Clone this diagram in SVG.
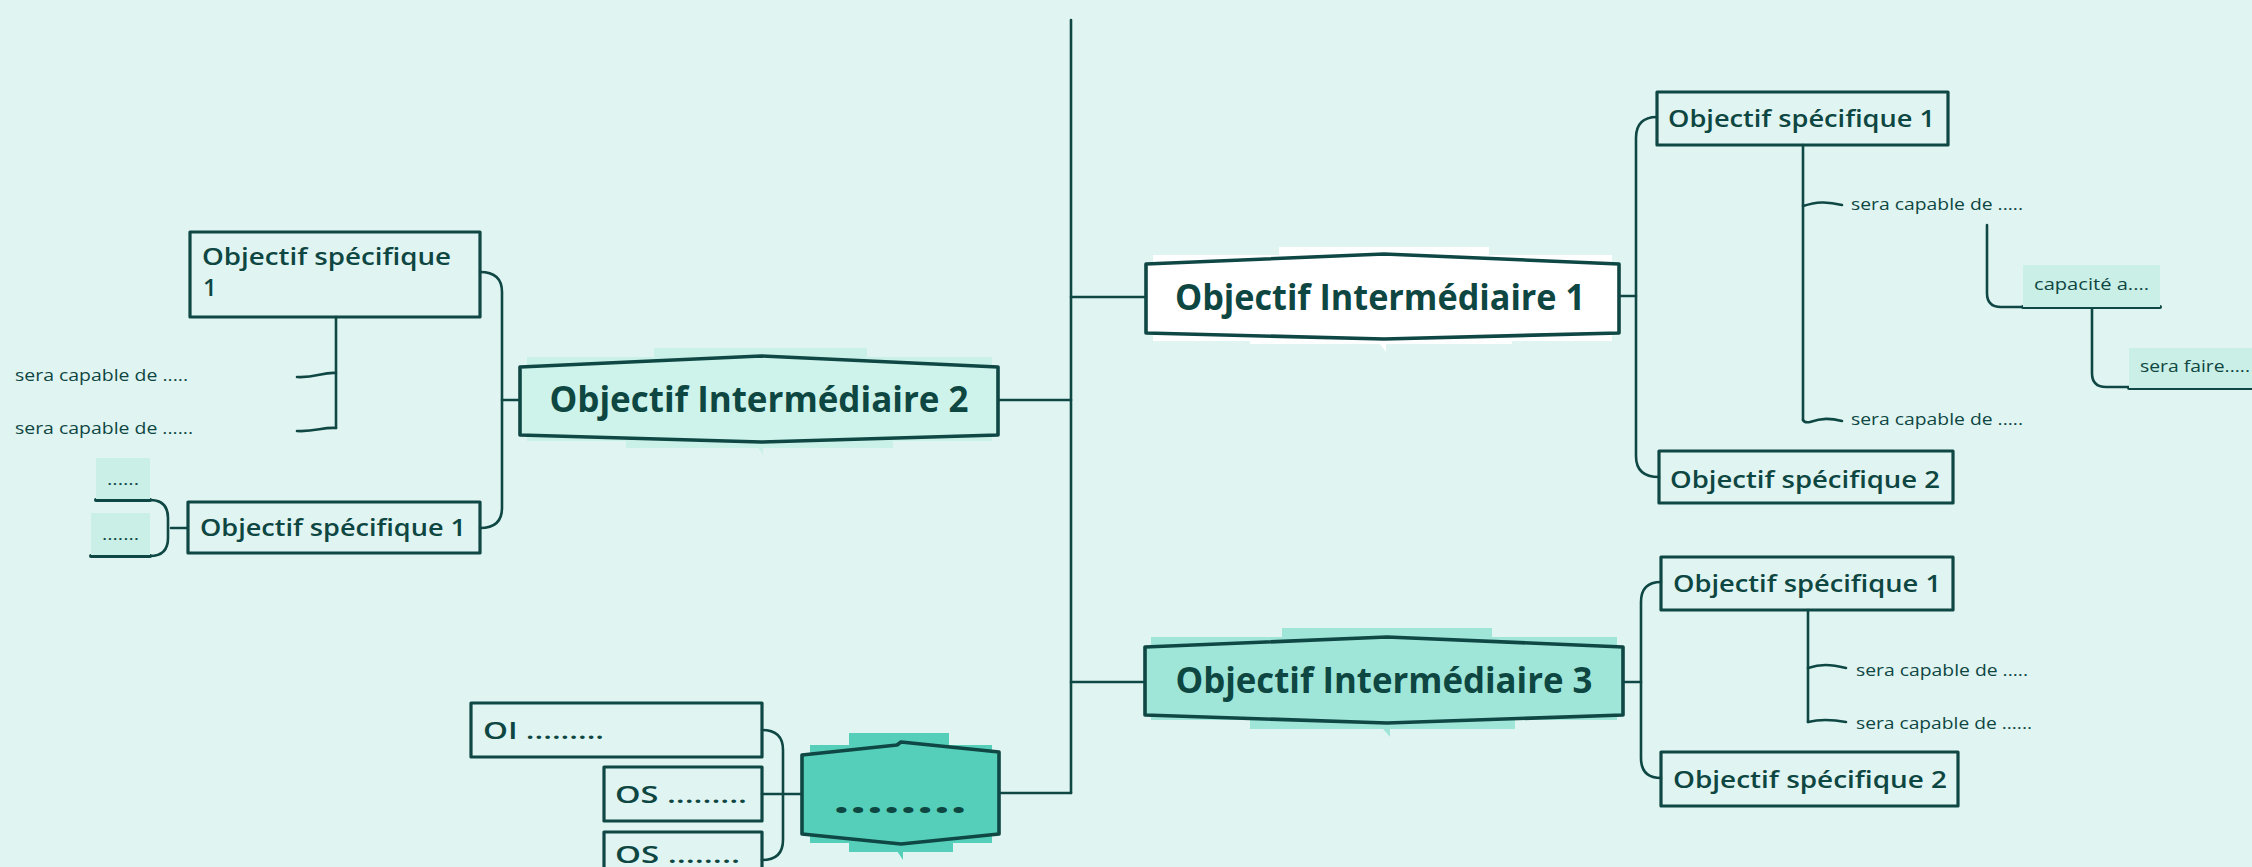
<svg xmlns="http://www.w3.org/2000/svg" width="2252" height="867" viewBox="0 0 2252 867">
<style>
.bg{fill:#e0f5f2}
.ln{fill:none;stroke:#0f4744;stroke-width:2.6;stroke-linecap:round;stroke-linejoin:round}
.thick{fill:none;stroke:#0f4744;stroke-width:4;stroke-linecap:round}
.box{fill:none;stroke:#0f4744;stroke-width:3.2;stroke-linejoin:round}
.oi{stroke:#0f4744;stroke-width:3.6;stroke-linejoin:round}
.tOI{font-family:"Open Sans","Noto Sans",sans-serif;font-weight:700;font-size:35px;fill:#0e4642;text-anchor:middle}
.tOS{font-family:"Open Sans","Noto Sans",sans-serif;font-weight:600;font-size:24px;fill:#0e4642}
.tS{font-family:"Open Sans","Noto Sans",sans-serif;font-weight:400;font-size:17px;fill:#0e4642}
.soft{fill:#c9efe6}
</style>
<rect class="bg" x="0" y="0" width="2252" height="867"/>

<g id="connectors">
  <path class="ln" d="M1071,20 L1071,793"/>
  <path class="ln" d="M1071,297 L1146,297"/>
  <path class="ln" d="M998,400 L1071,400"/>
  <path class="ln" d="M1071,682 L1145,682"/>
  <path class="ln" d="M999,793 L1071,793"/>
  <path class="ln" d="M502,400 L520,400"/>
  <path class="ln" d="M480,272 Q502,272 502,292 L502,508 Q502,528 480,528"/>
  <path class="ln" d="M336,317 L336,428"/>
  <path class="ln" d="M336,373 C322,372 316,378 297,377"/>
  <path class="ln" d="M336,428 C322,427 316,432 297,431"/>
  <path class="ln" d="M171,528 L187,528"/>
  <path class="ln" d="M150,500 Q168,500 168,518 L168,538 Q168,556 150,556"/>
  <path class="thick" d="M96,500 L150,500"/>
  <path class="thick" d="M91,556 L150,556"/>
  <path class="ln" d="M1619,296 L1636,296"/>
  <path class="ln" d="M1657,117 Q1636,117 1636,138 L1636,456 Q1636,477 1659,477"/>
  <path class="ln" d="M1803,145 L1803,420"/>
  <path class="ln" d="M1803,206 C1816,202 1826,201 1842,205"/>
  <path class="ln" d="M1803,420 Q1804,423 1810,422 C1822,418 1830,418 1842,421"/>
  <path class="ln" d="M1987,225 L1987,293 Q1987,307 2001,307 L2023,307"/>
  <path class="thick" d="M2023,307 L2160,307"/>
  <path class="ln" d="M2092,307 L2092,373 Q2092,387 2106,387 L2129,387"/>
  <path class="thick" d="M2129,388 L2252,388"/>
  <path class="ln" d="M1623,682 L1641,682"/>
  <path class="ln" d="M1661,582 Q1641,582 1641,602 L1641,758 Q1641,778 1661,778"/>
  <path class="ln" d="M1808,610 L1808,722"/>
  <path class="ln" d="M1808,668 C1820,664 1830,664 1846,668"/>
  <path class="ln" d="M1808,722 C1820,719 1830,719 1846,722"/>
  <path class="ln" d="M762,730 Q783,730 783,750 L783,840 Q783,860 762,860"/>
  <path class="ln" d="M762,794 L802,794"/>
</g>

<g id="oi1">
  <rect x="1153" y="255" width="459" height="86" fill="#ffffff"/>
  <rect x="1279" y="247" width="210" height="20" fill="#ffffff"/>
  <rect x="1250" y="330" width="262" height="14" fill="#ffffff"/>
  <path d="M1377,340 L1386,340 L1386,352 Z" fill="#ffffff"/>
  <path class="oi" fill="#ffffff" d="M1146,264 L1384,254 L1619,264 L1619,333 L1384,339 L1146,333 Z"/>
  <text class="tOI" x="1380" y="310" textLength="410" lengthAdjust="spacingAndGlyphs">Objectif Intermédiaire 1</text>
</g>

<g id="oi2">
  <rect x="527" y="357" width="465" height="84" fill="#caf1e8"/>
  <rect x="654" y="348" width="213" height="20" fill="#caf1e8"/>
  <rect x="626" y="430" width="267" height="18" fill="#caf1e8"/>
  <path d="M753,440 L763,440 L763,455 Z" fill="#caf1e8"/>
  <path class="oi" fill="#cdf3ea" d="M520,367 L761,356 L998,367 L998,435 L761,442 L520,435 Z"/>
  <text class="tOI" x="759" y="412" textLength="419" lengthAdjust="spacingAndGlyphs">Objectif Intermédiaire 2</text>
</g>

<g id="oi3">
  <rect x="1151" y="637" width="466" height="83" fill="#9fe6d9"/>
  <rect x="1282" y="628" width="210" height="20" fill="#9fe6d9"/>
  <rect x="1250" y="712" width="265" height="17" fill="#9fe6d9"/>
  <path d="M1377,722 L1390,722 L1390,737 Z" fill="#9fe6d9"/>
  <path class="oi" fill="#9fe6d9" d="M1145,647 L1387,637 L1623,647 L1623,715 L1387,723 L1145,715 Z"/>
  <text class="tOI" x="1384" y="693" textLength="417" lengthAdjust="spacingAndGlyphs">Objectif Intermédiaire 3</text>
</g>

<g id="oi4">
  <rect x="810" y="745" width="182" height="98" fill="#55cfb9"/>
  <rect x="849" y="733" width="100" height="20" fill="#55cfb9"/>
  <rect x="849" y="836" width="104" height="16" fill="#55cfb9"/>
  <path d="M893,845 L903,845 L903,860 Z" fill="#55cfb9"/>
  <path class="oi" fill="#55cfb9" d="M802,755 L897,745 L901,742 L999,752 L999,834 L901,844 L802,834 Z"/>
  <text class="tOI" x="900" y="813" font-size="64" textLength="134" lengthAdjust="spacingAndGlyphs">........</text>
</g>

<g id="os2a">
  <rect class="box" x="190" y="232" width="290" height="85"/>
  <text class="tOS" x="202" y="265" textLength="249" lengthAdjust="spacingAndGlyphs">Objectif spécifique</text>
  <text class="tOS" x="203" y="296">1</text>
</g>
<g id="sc2a"><text class="tS" x="15" y="381" textLength="173" lengthAdjust="spacingAndGlyphs">sera capable de .....</text></g>
<g id="sc2b"><text class="tS" x="15" y="434" textLength="178" lengthAdjust="spacingAndGlyphs">sera capable de ......</text></g>

<g id="os2b">
  <rect class="box" x="188" y="502" width="292" height="51"/>
  <text class="tOS" x="200" y="536" textLength="266" lengthAdjust="spacingAndGlyphs">Objectif spécifique 1</text>
</g>
<g id="dots2a">
  <rect class="soft" x="96" y="458" width="54" height="41"/>
  <text class="tS" x="107" y="485" textLength="32" lengthAdjust="spacingAndGlyphs">......</text>
</g>
<g id="dots2b">
  <rect class="soft" x="91" y="513" width="59" height="42"/>
  <text class="tS" x="102" y="540" textLength="37" lengthAdjust="spacingAndGlyphs">.......</text>
</g>

<g id="os1a">
  <rect class="box" x="1657" y="92" width="291" height="53"/>
  <text class="tOS" x="1668" y="127" textLength="267" lengthAdjust="spacingAndGlyphs">Objectif spécifique 1</text>
</g>
<g id="sc1a"><text class="tS" x="1851" y="210" textLength="172" lengthAdjust="spacingAndGlyphs">sera capable de .....</text></g>
<g id="sc1b"><text class="tS" x="1851" y="425" textLength="172" lengthAdjust="spacingAndGlyphs">sera capable de .....</text></g>
<g id="cap1">
  <rect class="soft" x="2023" y="265" width="137" height="42"/>
  <text class="tS" x="2034" y="290" textLength="115" lengthAdjust="spacingAndGlyphs">capacité a....</text>
</g>
<g id="faire1">
  <rect class="soft" x="2129" y="348" width="123" height="40"/>
  <text class="tS" x="2140" y="372" textLength="110" lengthAdjust="spacingAndGlyphs">sera faire.....</text>
</g>
<g id="os1b">
  <rect class="box" x="1659" y="451" width="294" height="52"/>
  <text class="tOS" x="1670" y="488" textLength="270" lengthAdjust="spacingAndGlyphs">Objectif spécifique 2</text>
</g>

<g id="os3a">
  <rect class="box" x="1661" y="557" width="292" height="53"/>
  <text class="tOS" x="1673" y="592" textLength="268" lengthAdjust="spacingAndGlyphs">Objectif spécifique 1</text>
</g>
<g id="sc3a"><text class="tS" x="1856" y="676" textLength="172" lengthAdjust="spacingAndGlyphs">sera capable de .....</text></g>
<g id="sc3b"><text class="tS" x="1856" y="729" textLength="176" lengthAdjust="spacingAndGlyphs">sera capable de ......</text></g>
<g id="os3b">
  <rect class="box" x="1661" y="752" width="297" height="54"/>
  <text class="tOS" x="1673" y="788" textLength="274" lengthAdjust="spacingAndGlyphs">Objectif spécifique 2</text>
</g>

<g id="oi4a">
  <rect class="box" x="471" y="703" width="291" height="54"/>
  <text class="tOS" x="483" y="739" textLength="121" lengthAdjust="spacingAndGlyphs">OI .........</text>
</g>
<g id="os4a">
  <rect class="box" x="604" y="767" width="158" height="54"/>
  <text class="tOS" x="615" y="803" textLength="132" lengthAdjust="spacingAndGlyphs">OS .........</text>
</g>
<g id="os4b">
  <rect class="box" x="604" y="832" width="158" height="54"/>
  <text class="tOS" x="615" y="863" textLength="125" lengthAdjust="spacingAndGlyphs">OS ........</text>
</g>
</svg>
